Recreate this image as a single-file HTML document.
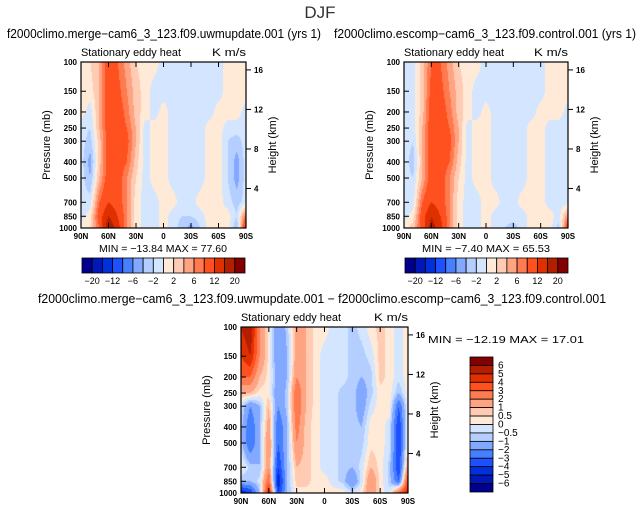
<!DOCTYPE html>
<html><head><meta charset="utf-8"><style>
body{margin:0;background:#fff;width:641px;height:513px;overflow:hidden;position:relative;font-family:"Liberation Sans",sans-serif}
canvas{position:absolute}
svg{position:absolute;left:0;top:0}
</style></head><body>
<canvas id="c1" style="left:81px;top:62px" width="165" height="166"></canvas>
<canvas id="c2" style="left:404px;top:62px" width="164" height="166"></canvas>
<canvas id="c3" style="left:241px;top:327px" width="167" height="166"></canvas>
<svg id="s" width="641" height="513"></svg>
<script>
const lats=[90,80,70,60,50,40,30,20,10,0,-10,-20,-30,-40,-50,-60,-70,-80,-90];
const levs=[1000,850,700,500,400,300,250,200,150,100];
const field1=[
[1,2,8,20,14,6,1,-1,-1,1,-1,-3,-5,-2,1,1,1,-4,14],
[-1,1,10,16,12,6,1,-1,-1,1,-1,-2,-2,-1,1,1,1,-2,8],
[-1,-1,8,12,10,6,1,-1,-1,1,1,-1,-1,1,1,1,-1,-3,-1],
[-1,-4,4,10,10,6,2,-1,1,1,-1,-1,-1,-1,1,1,-2,-5,-1],
[-1,-5,3,10,10,8,3,-1,1,1,-1,-1,-1,-1,1,1,-2,-5,-1],
[-1,-3,3,10,10,9,4,-1,1,1,-1,-1,-1,-1,1,1,-2,-3,-1],
[-1,-2,4,10,10,8,4,-1,1,1,-1,-1,-1,-1,1,1,-1,-1,-1],
[1,-1,4,10,10,7,3,1,-1,1,-1,-1,-1,-1,-1,1,1,1,-1],
[1,1,4,10,9,6,3,1,-1,-1,-1,-1,-2,-1,-1,-1,1,1,1],
[1,2,4,10,8,5,2,1,1,-1,-1,-1,-2,-1,-1,-1,1,1,1]];
const field2=[
[1,3,10,18,14,6,1,-1,-1,1,-1,-2,-3,-1,1,1,1,-3,12],
[-1,1,10,16,12,6,1,-1,-1,1,-1,-1,-1,-1,1,1,1,-1,6],
[-1,-1,8,12,10,6,1,-1,-1,1,1,-1,-1,1,1,1,-1,-1,-1],
[-1,-2,4,10,10,6,2,-1,1,1,-1,-1,-1,-1,1,1,-1,-2,-1],
[-1,-3,4,10,10,8,3,-1,1,1,-1,-1,-1,-1,1,1,-1,-2,-1],
[-1,-2,4,10,10,9,4,-1,1,1,-1,-1,-1,-1,1,1,-1,-1,-1],
[-1,-1,4,10,10,8,4,-1,1,1,-1,-1,-1,-1,1,1,-1,-1,-1],
[-1,-1,3,10,10,7,3,1,-1,1,-1,-1,-1,-1,-1,1,1,1,-1],
[-1,-1,3,9,9,6,3,1,-1,-1,-1,-1,-2,-1,-1,-1,1,1,1],
[-1,-1,3,8,8,5,2,1,1,-1,-1,-1,-2,-1,-1,-1,1,1,1]];
const field3=[
[-5,-4,-1,5,-4,-1,0.3,0.3,0.3,0.3,0.3,0.3,-0.3,0.3,2,0.3,-0.3,3,5],
[-1,-1,-0.3,3,-5,-1,0.7,0.7,0.3,0.3,-0.3,-0.7,-2,-0.3,2,0.3,-0.7,-3,4],
[0.3,-0.7,-1,2,-4,-1,1,0.7,0.3,-0.3,-0.3,-0.7,-1,-0.3,1,0.3,-0.7,-4,2],
[-0.7,-3,-1,2,-3,-1,2,0.7,0.3,-0.3,-0.3,-0.7,-0.7,-0.7,0.3,0.3,-0.3,-4,0.3],
[-0.7,-3,-1,1.5,-3,-1,2.5,0.7,0.3,-0.3,-0.3,-0.7,-0.7,-1,0.3,0.3,-0.3,-4,0.3],
[-0.3,-2,-1,1,-2,-0.7,3,1,0.3,-0.3,-0.3,-0.7,-0.7,-1.5,-0.3,0.3,0.3,-3,0.3],
[1,1,0.3,0.3,-2,-0.7,3,1,0.3,-0.3,-0.3,-0.7,-0.7,-1.5,-0.7,0.3,0.3,-1,0.3],
[3,3,1,0.3,-1.5,-1,2,1,0.3,-0.3,-0.3,-0.3,-0.7,-1,-0.7,0.7,0.3,-0.3,0.3],
[4,5,2,0.3,-2,-1,1.5,1,0.3,-0.3,-0.3,-0.3,-0.7,-0.7,-0.3,0.7,0.3,-0.3,0.3],
[5,6,2,0.3,-2,-0.7,1.5,1,0.3,0.3,-0.3,-0.3,-0.7,-0.3,0.3,0.7,0.3,-0.3,0.3]];
const levelsTop=[-20,-16,-12,-8,-6,-4,-2,0,2,4,6,8,12,16,20];
const levelsDiff=[-6,-5,-4,-3,-2,-1,-0.5,0,0.5,1,2,3,4,5,6];
const topLabels=["-20","-12","-6","-2","2","6","12","20"];
const diffLabels=["6","5","4","3","2","1","0.5","0","-0.5","-1","-2","-3","-4","-5","-6"];
const latTicks=["90N","60N","30N","0","30S","60S","90S"];
const pTicks=[100,150,200,250,300,400,500,700,850,1000];
const hTicks=[16,12,8,4];
const colors=["#00008c","#0018b8","#0030dc","#1e50ff","#4680ff","#82a8ff","#b4ceff","#d4e6ff","#ffead8","#ffcbb2","#ffa482","#ff7a4e","#ff5020","#e03000","#b41e00","#820000"];
function hex(c){return[parseInt(c.substr(1,2),16),parseInt(c.substr(3,2),16),parseInt(c.substr(5,2),16)];}
const rgb=colors.map(hex);
function cls(v,lv){let k=0;while(k<lv.length&&v>=lv[k])k++;return k;}
function drawField(id,f,lv){
  const cv=document.getElementById(id),ctx=cv.getContext('2d'),W=cv.width,H=cv.height;
  const img=ctx.createImageData(W,H);
  const lp=levs.map(p=>Math.log10(p));
  for(let y=0;y<H;y++){
    const L=2+(y+0.5)/H;
    let j=0;while(j<lp.length-2&&L<lp[j+1])j++;
    let ty=(lp[j]-L)/(lp[j]-lp[j+1]);ty=Math.max(0,Math.min(1,ty));
    for(let x=0;x<W;x++){
      const fx=(x+0.5)/W*(lats.length-1);let i=Math.min(Math.floor(fx),lats.length-2);const tx=fx-i;
      const v=(f[j][i]*(1-tx)+f[j][i+1]*tx)*(1-ty)+(f[j+1][i]*(1-tx)+f[j+1][i+1]*tx)*ty;
      const c=rgb[cls(v,lv)],o=(y*W+x)*4;
      img.data[o]=c[0];img.data[o+1]=c[1];img.data[o+2]=c[2];img.data[o+3]=255;
    }
  }
  ctx.putImageData(img,0,0);
}
drawField('c1',field1,levelsTop);drawField('c2',field2,levelsTop);drawField('c3',field3,levelsDiff);
const s=document.getElementById('s');const NS="http://www.w3.org/2000/svg";
function el(t,a,txt){const e=document.createElementNS(NS,t);for(const k in a)e.setAttribute(k,a[k]);if(txt!==undefined)e.textContent=txt;s.appendChild(e);return e;}
function txt(x,y,str,size,anchor,name,extra){const e=el('text',Object.assign({x:x,y:y,'font-size':size,'text-anchor':anchor||'middle',fill:'#000'},extra||{}),str);return e;}
txt(320,18,"DJF",17,'middle','main-title',{fill:'#333'});
function fit(w){return {textLength:w,lengthAdjust:'spacingAndGlyphs'};}
function panel(x0,y0,w,h,title,tx,tw,minmax,mmx,mmy,mmw,pre){
  txt(tx,y0-24,title,12.5,'middle',pre+'-title',fit(tw));
  txt(x0,y0-6,"Stationary eddy heat",11,'start',pre+'-variable-label',fit(100));
  txt(x0+w,y0-6,"K m/s",11,'end',pre+'-units-label',fit(34));
  const r=el('rect',{x:x0,y:y0,width:w,height:h,fill:'none',stroke:'#000','stroke-width':1.2});
  
  latTicks.forEach((l,i)=>{const x=x0+w*i/(latTicks.length-1);
    el('line',{x1:x,y1:y0+h,x2:x,y2:y0+h-5,stroke:'#000'});el('line',{x1:x,y1:y0,x2:x,y2:y0+5,stroke:'#000'});
    txt(x,y0+h+11,l,8,'middle',pre+'-lat-tick',{'font-weight':'bold'});});
  pTicks.forEach(p=>{const Y=y0+h*(Math.log10(p)-2);
    el('line',{x1:x0,y1:Y,x2:x0+5,y2:Y,stroke:'#000'});
    txt(x0-4,Y+3,String(p),8,'end',pre+'-pressure-tick',{'font-weight':'bold'});});
  hTicks.forEach(hk=>{const y=y0+h*(1-hk/16.8);el('line',{x1:x0+w,y1:y,x2:x0+w+5,y2:y,stroke:'#000'});
    txt(x0+w+8,y+3,String(hk),8,'start',pre+'-height-tick',{'font-weight':'bold'});});
  txt(0,0,"Pressure (mb)",11,'middle',pre+'-y-axis-title',{transform:`translate(${x0-31},${y0+h/2}) rotate(-90)`});
  txt(0,0,"Height (km)",11,'middle',pre+'-y2-axis-title',{transform:`translate(${x0+w+30},${y0+h/2}) rotate(-90)`});
  txt(mmx,mmy,minmax,10.5,'middle',pre+'-minmax',fit(mmw));
}
panel(81,62,165,166,"f2000climo.merge\u2212cam6_3_123.f09.uwmupdate.001 (yrs 1)",164,314,"MIN = \u221213.84   MAX =  77.60",163,252,128,'plot1');
panel(404,62,164,166,"f2000climo.escomp\u2212cam6_3_123.f09.control.001 (yrs 1)",485,302,"MIN = \u22127.40   MAX = 65.53",486,252,128,'plot2');
panel(241,327,167,166,"f2000climo.merge\u2212cam6_3_123.f09.uwmupdate.001 \u2212 f2000climo.escomp\u2212cam6_3_123.f09.control.001",322,568,"MIN = \u221212.19   MAX =  17.01",506,343,156,'diff');
function hbar(x0,y0,w,h,pre){const bw=w/colors.length;
  colors.forEach((c,i)=>{const r=el('rect',{x:x0+i*bw,y:y0,width:bw,height:h,fill:c,stroke:'#000','stroke-width':0.8});});
  topLabels.forEach((l,k)=>txt(x0+bw*(1+2*k),y0+h+11,l.replace('-','\u2212'),9,'middle',pre+'-colorbar-label'));}
hbar(82,258,163,15,'plot1');hbar(405,258,163,15,'plot2');
(function(){const x0=470,y0=357,w=23,h=135,bh=h/colors.length;
  colors.slice().reverse().forEach((c,i)=>{const r=el('rect',{x:x0,y:y0+i*bh,width:w,height:bh,fill:c,stroke:'#000','stroke-width':0.8});});
  diffLabels.forEach((l,k)=>txt(x0+w+5,y0+bh*(k+1)+3,l.replace('-','\u2212'),10,'start','diff-colorbar-label'));})();
</script>
</body></html>
